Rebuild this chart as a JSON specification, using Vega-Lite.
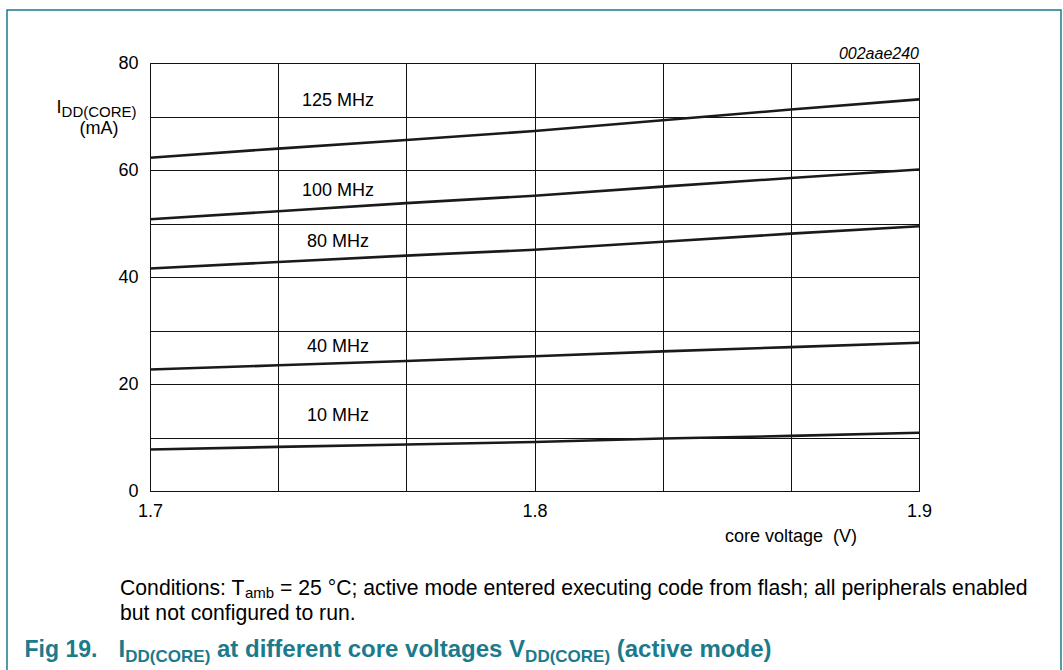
{
  "$schema": "https://vega.github.io/schema/vega-lite/v6.json",
  "width": 769,
  "height": 428,
  "autosize": {"type": "none"},
  "padding": {"left": 150, "top": 63, "right": 144, "bottom": 179},
  "background": "white",
  "config": {
    "view": {"stroke": "#222", "strokeWidth": 1},
    "font": "Liberation Sans",
    "text": {"font": "Liberation Sans", "color": "#000"}
  },
  "datasets": {
    "curves": [
      {"freq": "125 MHz", "voltage": 1.7, "current": 62.3},
      {"freq": "125 MHz", "voltage": 1.733333, "current": 64.0},
      {"freq": "125 MHz", "voltage": 1.766667, "current": 65.6},
      {"freq": "125 MHz", "voltage": 1.8, "current": 67.3},
      {"freq": "125 MHz", "voltage": 1.833333, "current": 69.3},
      {"freq": "125 MHz", "voltage": 1.866667, "current": 71.3},
      {"freq": "125 MHz", "voltage": 1.9, "current": 73.2},
      {"freq": "100 MHz", "voltage": 1.7, "current": 50.8},
      {"freq": "100 MHz", "voltage": 1.733333, "current": 52.3},
      {"freq": "100 MHz", "voltage": 1.766667, "current": 53.8},
      {"freq": "100 MHz", "voltage": 1.8, "current": 55.2},
      {"freq": "100 MHz", "voltage": 1.833333, "current": 56.9},
      {"freq": "100 MHz", "voltage": 1.866667, "current": 58.5},
      {"freq": "100 MHz", "voltage": 1.9, "current": 60.1},
      {"freq": "80 MHz", "voltage": 1.7, "current": 41.6},
      {"freq": "80 MHz", "voltage": 1.733333, "current": 42.8},
      {"freq": "80 MHz", "voltage": 1.766667, "current": 44.0},
      {"freq": "80 MHz", "voltage": 1.8, "current": 45.1},
      {"freq": "80 MHz", "voltage": 1.833333, "current": 46.6},
      {"freq": "80 MHz", "voltage": 1.866667, "current": 48.1},
      {"freq": "80 MHz", "voltage": 1.9, "current": 49.5},
      {"freq": "40 MHz", "voltage": 1.7, "current": 22.7},
      {"freq": "40 MHz", "voltage": 1.733333, "current": 23.5},
      {"freq": "40 MHz", "voltage": 1.766667, "current": 24.3},
      {"freq": "40 MHz", "voltage": 1.8, "current": 25.2},
      {"freq": "40 MHz", "voltage": 1.833333, "current": 26.1},
      {"freq": "40 MHz", "voltage": 1.866667, "current": 26.9},
      {"freq": "40 MHz", "voltage": 1.9, "current": 27.7},
      {"freq": "10 MHz", "voltage": 1.7, "current": 7.75},
      {"freq": "10 MHz", "voltage": 1.733333, "current": 8.25},
      {"freq": "10 MHz", "voltage": 1.766667, "current": 8.7},
      {"freq": "10 MHz", "voltage": 1.8, "current": 9.15},
      {"freq": "10 MHz", "voltage": 1.833333, "current": 9.8},
      {"freq": "10 MHz", "voltage": 1.866667, "current": 10.3},
      {"freq": "10 MHz", "voltage": 1.9, "current": 10.9}
    ],
    "labels": [
      {"freq": "125 MHz", "voltage": 1.74889, "current": 71.96},
      {"freq": "100 MHz", "voltage": 1.74889, "current": 55.14},
      {"freq": "80 MHz", "voltage": 1.74889, "current": 45.61},
      {"freq": "40 MHz", "voltage": 1.74889, "current": 25.98},
      {"freq": "10 MHz", "voltage": 1.74889, "current": 13.08}
    ],
    "one": [{}]
  },
  "layer": [
    {
      "data": {"name": "curves"},
      "mark": {"type": "line", "color": "#1a1a1a", "strokeWidth": 2.6},
      "encoding": {
        "x": {
          "field": "voltage",
          "type": "quantitative",
          "scale": {"domain": [1.7, 1.9], "nice": false, "zero": false},
          "axis": {
            "values": [1.7, 1.733333, 1.766667, 1.8, 1.833333, 1.866667, 1.9],
            "grid": true,
            "gridColor": "#111",
            "gridWidth": 1,
            "ticks": false,
            "tickSize": 0,
            "domain": false,
            "labelExpr": "abs(datum.value - round(datum.value*10)/10) < 0.0001 ? format(datum.value, '.1f') : ''",
            "labelFont": "Liberation Sans",
            "labelFontSize": 18,
            "labelColor": "#000",
            "labelPadding": 25,
            "labelBaseline": "alphabetic",
            "labelFlush": false,
            "labelOverlap": false,
            "title": "core voltage\u00a0 (V)",
            "titleFont": "Liberation Sans",
            "titleFontSize": 18,
            "titleFontWeight": "normal",
            "titleColor": "#000",
            "titleX": 640.5,
            "titleY": 50,
            "titleAlign": "center",
            "titleBaseline": "alphabetic"
          }
        },
        "y": {
          "field": "current",
          "type": "quantitative",
          "scale": {"domain": [0, 80], "nice": false},
          "axis": {
            "values": [0, 10, 20, 30, 40, 50, 60, 70, 80],
            "grid": true,
            "gridColor": "#111",
            "gridWidth": 1,
            "ticks": false,
            "tickSize": 0,
            "domain": false,
            "labelExpr": "datum.value % 20 == 0 ? datum.label : ''",
            "labelFont": "Liberation Sans",
            "labelFontSize": 18,
            "labelColor": "#000",
            "labelPadding": 12,
            "labelOverlap": false,
            "labelFlush": false,
            "title": null
          }
        },
        "detail": {"field": "freq"}
      }
    },
    {
      "data": {"name": "labels"},
      "mark": {"type": "text", "fontSize": 18, "align": "center", "baseline": "alphabetic"},
      "encoding": {
        "x": {"field": "voltage", "type": "quantitative"},
        "y": {"field": "current", "type": "quantitative"},
        "text": {"field": "freq"}
      }
    },
    {
      "data": {"name": "one"},
      "mark": {"type": "text", "text": "I", "fontSize": 18, "align": "left", "baseline": "alphabetic"},
      "encoding": {"x": {"datum": 1.67571, "type": "quantitative"}, "y": {"datum": 70.71, "type": "quantitative"}}
    },
    {
      "data": {"name": "one"},
      "mark": {"type": "text", "text": "DD(CORE)", "fontSize": 15, "align": "left", "baseline": "alphabetic"},
      "encoding": {"x": {"datum": 1.67701, "type": "quantitative"}, "y": {"datum": 69.91, "type": "quantitative"}}
    },
    {
      "data": {"name": "one"},
      "mark": {"type": "text", "text": "(mA)", "fontSize": 18, "align": "center", "baseline": "alphabetic"},
      "encoding": {"x": {"datum": 1.68674, "type": "quantitative"}, "y": {"datum": 66.64, "type": "quantitative"}}
    },
    {
      "data": {"name": "one"},
      "mark": {"type": "text", "text": "002aae240", "fontSize": 16, "fontStyle": "italic", "align": "right", "baseline": "alphabetic"},
      "encoding": {"x": {"datum": 1.9, "type": "quantitative"}, "y": {"datum": 80.84, "type": "quantitative"}}
    },
    {
      "data": {"name": "one"},
      "mark": {"type": "text", "text": "Conditions: T", "fontSize": 21.2, "align": "left", "baseline": "alphabetic"},
      "encoding": {"x": {"datum": 1.6922, "type": "quantitative"}, "y": {"datum": -19.44, "type": "quantitative"}}
    },
    {
      "data": {"name": "one"},
      "mark": {"type": "text", "text": "amb", "fontSize": 15, "align": "left", "baseline": "alphabetic"},
      "encoding": {"x": {"datum": 1.72468, "type": "quantitative"}, "y": {"datum": -20.0, "type": "quantitative"}}
    },
    {
      "data": {"name": "one"},
      "mark": {"type": "text", "text": "= 25 °C; active mode entered executing code from flash; all peripherals enabled", "fontSize": 21.2, "align": "left", "baseline": "alphabetic"},
      "encoding": {"x": {"datum": 1.73381, "type": "quantitative"}, "y": {"datum": -19.44, "type": "quantitative"}}
    },
    {
      "data": {"name": "one"},
      "mark": {"type": "text", "text": "but not configured to run.", "fontSize": 21.2, "align": "left", "baseline": "alphabetic"},
      "encoding": {"x": {"datum": 1.6922, "type": "quantitative"}, "y": {"datum": -24.11, "type": "quantitative"}}
    },
    {
      "data": {"name": "one"},
      "mark": {"type": "text", "text": "Fig 19.", "fontSize": 23, "fontWeight": "bold", "color": "#1B7A8C", "align": "left", "baseline": "alphabetic"},
      "encoding": {"x": {"datum": 1.66736, "type": "quantitative"}, "y": {"datum": -31.03, "type": "quantitative"}}
    },
    {
      "data": {"name": "one"},
      "mark": {"type": "text", "text": "I", "fontSize": 24, "fontWeight": "bold", "color": "#1B7A8C", "align": "left", "baseline": "alphabetic"},
      "encoding": {"x": {"datum": 1.69183, "type": "quantitative"}, "y": {"datum": -31.03, "type": "quantitative"}}
    },
    {
      "data": {"name": "one"},
      "mark": {"type": "text", "text": "DD(CORE)", "fontSize": 17, "fontWeight": "bold", "color": "#1B7A8C", "align": "left", "baseline": "alphabetic"},
      "encoding": {"x": {"datum": 1.69358, "type": "quantitative"}, "y": {"datum": -31.87, "type": "quantitative"}}
    },
    {
      "data": {"name": "one"},
      "mark": {"type": "text", "text": "at different core voltages V", "fontSize": 24, "fontWeight": "bold", "color": "#1B7A8C", "align": "left", "baseline": "alphabetic"},
      "encoding": {"x": {"datum": 1.71743, "type": "quantitative"}, "y": {"datum": -31.03, "type": "quantitative"}}
    },
    {
      "data": {"name": "one"},
      "mark": {"type": "text", "text": "DD(CORE)", "fontSize": 17, "fontWeight": "bold", "color": "#1B7A8C", "align": "left", "baseline": "alphabetic"},
      "encoding": {"x": {"datum": 1.79756, "type": "quantitative"}, "y": {"datum": -31.87, "type": "quantitative"}}
    },
    {
      "data": {"name": "one"},
      "mark": {"type": "text", "text": "(active mode)", "fontSize": 24, "fontWeight": "bold", "color": "#1B7A8C", "align": "left", "baseline": "alphabetic"},
      "encoding": {"x": {"datum": 1.8214, "type": "quantitative"}, "y": {"datum": -31.03, "type": "quantitative"}}
    },
    {
      "data": {"name": "one"},
      "mark": {"type": "rect", "fill": null, "fillOpacity": 0, "stroke": "#1B7A8C", "strokeWidth": 1.5},
      "encoding": {
        "x": {"datum": 1.66281, "type": "quantitative"},
        "x2": {"datum": 1.93693},
        "y": {"datum": 89.907, "type": "quantitative"},
        "y2": {"datum": -39.07}
      }
    }
  ]
}
